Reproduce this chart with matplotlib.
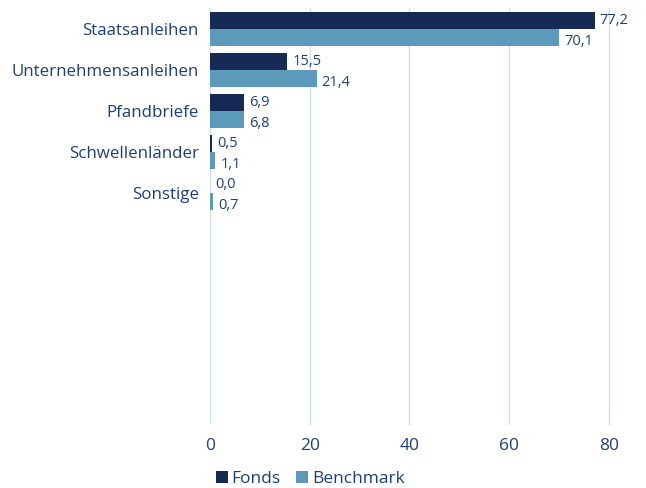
import matplotlib
matplotlib.use("Agg")
import matplotlib.pyplot as plt
import numpy as np

categories = ["Staatsanleihen", "Unternehmensanleihen", "Pfandbriefe", "Schwellenländer", "Sonstige"]
fonds = [77.2, 15.5, 6.9, 0.5, 0.0]
benchmark = [70.1, 21.4, 6.8, 1.1, 0.7]
series_names = ["Fonds", "Benchmark"]
xticks = [0, 20, 40, 60, 80]

c_fonds = "#152B55"
c_bench = "#5B9ABA"
c_text = "#1C3F7C"
c_grid = "#CFE0EA"

plt.rcParams['font.family'] = ['Open Sans', 'DejaVu Sans']

fig = plt.figure(figsize=(6.46, 4.88), dpi=100)
ax = fig.add_axes([0.325, 0.129, 0.656, 0.855])

y = np.arange(len(categories))
h = 0.42
ax.barh(y - h/2, fonds, height=h, color=c_fonds, label=series_names[0], zorder=3)
ax.barh(y + h/2, benchmark, height=h, color=c_bench, label=series_names[1], zorder=3)

for yi, v in zip(y, fonds):
    ax.text(v + 1.0, yi - h/2 - 0.01, f"{v:.1f}".replace(".", ","), va="center", ha="left",
            fontsize=10.5, color=c_text)
for yi, v in zip(y, benchmark):
    ax.text(v + 1.0, yi + h/2 + 0.09, f"{v:.1f}".replace(".", ","), va="center", ha="left",
            fontsize=10.5, color=c_text)

ax.set_yticks(y)
ax.set_yticklabels(categories, fontsize=12.2, color=c_text)
ax.set_ylim(9.65, -0.52)
ax.set_xlim(0, 85)
ax.set_xticks(xticks)
ax.set_xticklabels([str(t) for t in xticks], fontsize=12.5, color=c_text)
ax.tick_params(axis="both", length=0)
ax.tick_params(axis="y", pad=8)
ax.tick_params(axis="x", pad=9)
ax.grid(axis="x", color=c_grid, linewidth=1, zorder=0)
for s in ax.spines.values():
    s.set_visible(False)

leg = fig.legend(loc="lower left", bbox_to_anchor=(0.318, -0.02), ncol=2, frameon=False,
                 fontsize=12.5, handlelength=0.7, handleheight=0.7, handletextpad=0.2,
                 columnspacing=0.9, borderaxespad=0.2)
for t in leg.get_texts():
    t.set_color(c_text)

fig.savefig("out.png", dpi=100)
